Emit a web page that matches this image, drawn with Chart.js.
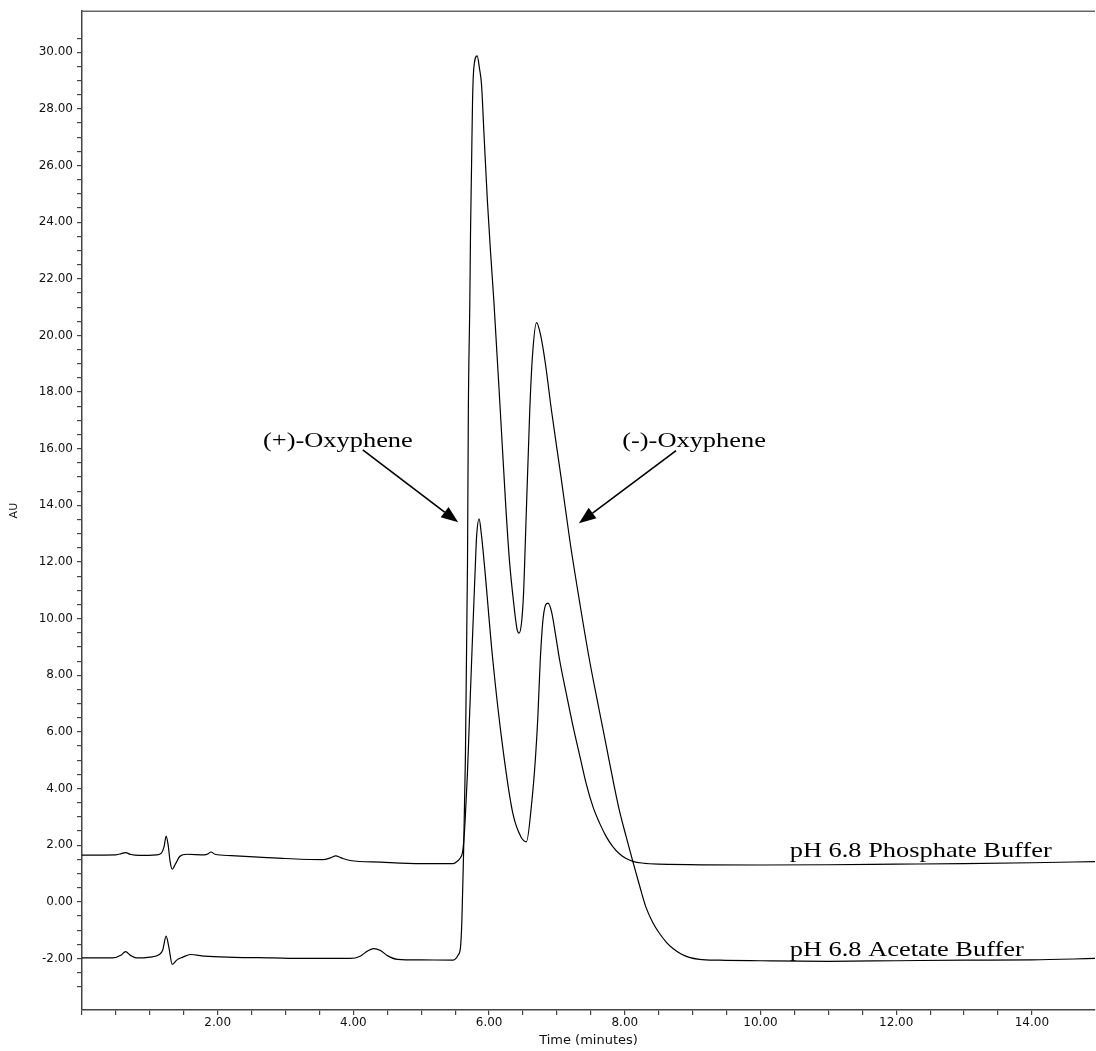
<!DOCTYPE html>
<html><head><meta charset="utf-8">
<script src="https://cdn.jsdelivr.net/npm/chart.js@4/dist/chart.umd.min.js"></script>
<style>html,body{margin:0;padding:0;background:#fff;}</style>
</head><body>
<canvas id="c" width="1096" height="1051"></canvas>
<script>
// ---- data (time in minutes, absorbance in AU) ----
const phosphateTime = [0.00,0.50,0.58,0.64,0.72,0.85,1.10,1.17,1.21,1.24,1.27,1.30,1.33,1.38,1.44,1.55,1.80,1.86,1.90,1.96,2.20,2.60,3.00,3.55,3.66,3.74,3.82,3.95,4.40,5.00,5.47,5.53,5.569,5.609,5.628,5.647,5.68,5.706,5.75,5.80,5.815,5.853,5.885,5.925,6.055,6.20,6.35,6.47,6.55,6.628,6.681,6.718,6.754,6.798,6.868,6.92,6.975,7.04,7.14,7.24,7.34,7.43,7.53,7.63,7.72,7.82,7.92,8.02,8.12,8.25,8.50,10.0,11.0,12.0,13.0,14.0,14.93];
const phosphateAU   = [1.65,1.66,1.70,1.74,1.67,1.64,1.66,1.72,1.95,2.32,2.00,1.40,1.15,1.35,1.60,1.68,1.66,1.70,1.76,1.68,1.63,1.58,1.53,1.49,1.55,1.62,1.55,1.46,1.40,1.35,1.35,1.43,1.53,1.76,2.18,2.88,4.50,6.17,9.00,12.05,12.87,13.52,13.00,12.05,8.53,5.47,3.12,2.29,2.12,3.50,5.00,6.50,8.53,10.05,10.55,10.25,9.50,8.53,7.33,6.17,5.12,4.18,3.36,2.77,2.33,1.96,1.70,1.53,1.43,1.37,1.33,1.30,1.31,1.33,1.35,1.38,1.42];

const acetateTime = [0.00,0.45,0.58,0.64,0.72,0.80,1.00,1.14,1.19,1.24,1.28,1.33,1.40,1.48,1.60,1.80,2.24,2.80,3.22,3.95,4.10,4.20,4.30,4.40,4.50,4.65,5.00,5.47,5.544,5.579,5.599,5.618,5.65,5.682,5.694,5.716,5.726,5.741,5.756,5.775,5.824,5.86,5.888,5.925,5.975,6.02,6.07,6.165,6.245,6.30,6.36,6.41,6.441,6.48,6.51,6.53,6.599,6.64,6.70,6.76,6.83,6.92,7.06,7.19,7.34,7.48,7.62,7.73,7.83,7.92,8.02,8.12,8.22,8.31,8.41,8.51,8.61,8.71,8.83,8.95,9.10,9.40,10.0,11.0,12.0,13.0,14.0,14.93];
const acetateAU   = [-1.98,-1.98,-1.88,-1.76,-1.90,-1.98,-1.95,-1.86,-1.70,-1.21,-1.60,-2.21,-2.05,-1.96,-1.86,-1.92,-1.96,-1.98,-2.00,-2.00,-1.92,-1.75,-1.65,-1.72,-1.90,-2.03,-2.05,-2.06,-1.88,-1.59,-0.65,1.12,5.00,12.05,17.30,21.22,23.58,25.93,28.28,29.45,29.87,29.40,28.87,27.10,24.75,22.99,21.22,17.34,14.00,12.05,10.60,9.65,9.49,9.90,11.00,12.40,17.34,19.30,20.45,20.00,19.00,17.34,15.00,12.76,10.50,8.53,6.80,5.47,4.25,3.23,2.30,1.41,0.55,-0.18,-0.72,-1.11,-1.42,-1.65,-1.84,-1.96,-2.03,-2.06,-2.08,-2.10,-2.08,-2.06,-2.05,-2.00];

const seriesNames = ['pH 6.8 Phosphate Buffer', 'pH 6.8 Acetate Buffer'];
const xMajorTicks = [2, 4, 6, 8, 10, 12, 14];
const yMajorTicks = [-2, 0, 2, 4, 6, 8, 10, 12, 14, 16, 18, 20, 22, 24, 26, 28, 30];
const peakNames = ['(+)-Oxyphene', '(-)-Oxyphene'];

// ---- annotation anchors (in data units) ----
const annotations = {
  peaks: [
    {text: peakNames[0], t: 2.668, au: 16.05, from: [4.138, 15.96], to: [5.544, 13.40]},
    {text: peakNames[1], t: 7.962, au: 16.05, from: [8.756, 15.93], to: [7.324, 13.37]}
  ],
  series: [
    {text: seriesNames[0], t: 10.43, au: 1.59},
    {text: seriesNames[1], t: 10.43, au: -1.92}
  ]
};

const isStep = (v, s) => Math.abs(v / s - Math.round(v / s)) < 1e-6;
const isMajor = (arr, v) => arr.some(m => Math.abs(m - v) < 1e-6);

const annotPlugin = {
  id: 'annot',
  afterDatasetsDraw(chart) {
    const {ctx, chartArea, scales: {x, y}} = chart;
    ctx.save();
    // top frame line
    ctx.strokeStyle = '#666';
    ctx.lineWidth = 1.5;
    ctx.beginPath();
    ctx.moveTo(chartArea.left, chartArea.top);
    ctx.lineTo(chartArea.right, chartArea.top);
    ctx.stroke();

    const drawText = (txt, t, au) => {
      ctx.save();
      ctx.translate(x.getPixelForValue(t), y.getPixelForValue(au));
      ctx.scale(1.2, 1);
      ctx.fillStyle = '#000';
      ctx.font = '22px "Liberation Serif", "Times New Roman", serif';
      ctx.textBaseline = 'alphabetic';
      ctx.textAlign = 'left';
      ctx.fillText(txt, 0, 0);
      ctx.restore();
    };
    annotations.peaks.forEach(p => {
      drawText(p.text, p.t, p.au);
      const x1 = x.getPixelForValue(p.from[0]), y1 = y.getPixelForValue(p.from[1]);
      const x2 = x.getPixelForValue(p.to[0]), y2 = y.getPixelForValue(p.to[1]);
      const ang = Math.atan2(y2 - y1, x2 - x1);
      const L = 17, W = 6.5;
      const bx = x2 - L * Math.cos(ang), by = y2 - L * Math.sin(ang);
      ctx.strokeStyle = '#000';
      ctx.lineWidth = 1.6;
      ctx.beginPath();
      ctx.moveTo(x1, y1);
      ctx.lineTo(bx, by);
      ctx.stroke();
      ctx.fillStyle = '#000';
      ctx.beginPath();
      ctx.moveTo(x2, y2);
      ctx.lineTo(bx + W * Math.sin(ang), by - W * Math.cos(ang));
      ctx.lineTo(bx - W * Math.sin(ang), by + W * Math.cos(ang));
      ctx.closePath();
      ctx.fill();
    });
    annotations.series.forEach(s => drawText(s.text, s.t, s.au));
    ctx.restore();
  }
};

const tickFont = {family: 'DejaVu Sans', size: 12};
const gridColor = (step) => (c) => (c.tick && isStep(c.tick.value, step)) ? '#444' : 'rgba(0,0,0,0)';

new Chart(document.getElementById('c'), {
  type: 'scatter',
  data: {
    datasets: [
      {label: seriesNames[0], data: phosphateTime.map((t, i) => ({x: t, y: phosphateAU[i]}))},
      {label: seriesNames[1], data: acetateTime.map((t, i) => ({x: t, y: acetateAU[i]}))}
    ].map(d => Object.assign(d, {
      showLine: true, borderColor: '#000', borderWidth: 1.2, pointRadius: 0,
      cubicInterpolationMode: 'monotone', fill: false
    }))
  },
  options: {
    responsive: false,
    animation: false,
    layout: {padding: {top: 10, right: 0, left: 0, bottom: 0}},
    plugins: {legend: {display: false}, tooltip: {enabled: false}},
    scales: {
      x: {
        type: 'linear', min: 0, max: 14.93,
        ticks: {stepSize: 0.5, autoSkip: false, maxRotation: 0, padding: 1, font: tickFont, color: '#111',
          callback: v => isMajor(xMajorTicks, v) ? v.toFixed(2) : ''},
        grid: {drawOnChartArea: false, drawTicks: true, tickLength: 5, color: gridColor(0.5), lineWidth: 1.2},
        border: {color: '#444', width: 1.5},
        title: {display: true, text: 'Time (minutes)', font: {family: 'DejaVu Sans', size: 13}, color: '#111', padding: {top: 0, bottom: 3}},
        afterFit(s) { s.height = 41; }
      },
      y: {
        type: 'linear', min: -3.82, max: 31.45,
        ticks: {stepSize: 0.5, autoSkip: false, padding: 4, font: tickFont, color: '#111',
          callback: v => isMajor(yMajorTicks, v) ? v.toFixed(2) : ''},
        grid: {drawOnChartArea: false, drawTicks: true, tickLength: 5, color: gridColor(0.5), lineWidth: 1.2},
        border: {color: '#444', width: 1.5},
        title: {display: true, text: 'AU', font: {family: 'DejaVu Sans', size: 11}, color: '#111', padding: {top: 8, bottom: 0}},
        afterFit(s) { s.width = 82; }
      }
    }
  },
  plugins: [annotPlugin]
});
</script>
</body></html>
